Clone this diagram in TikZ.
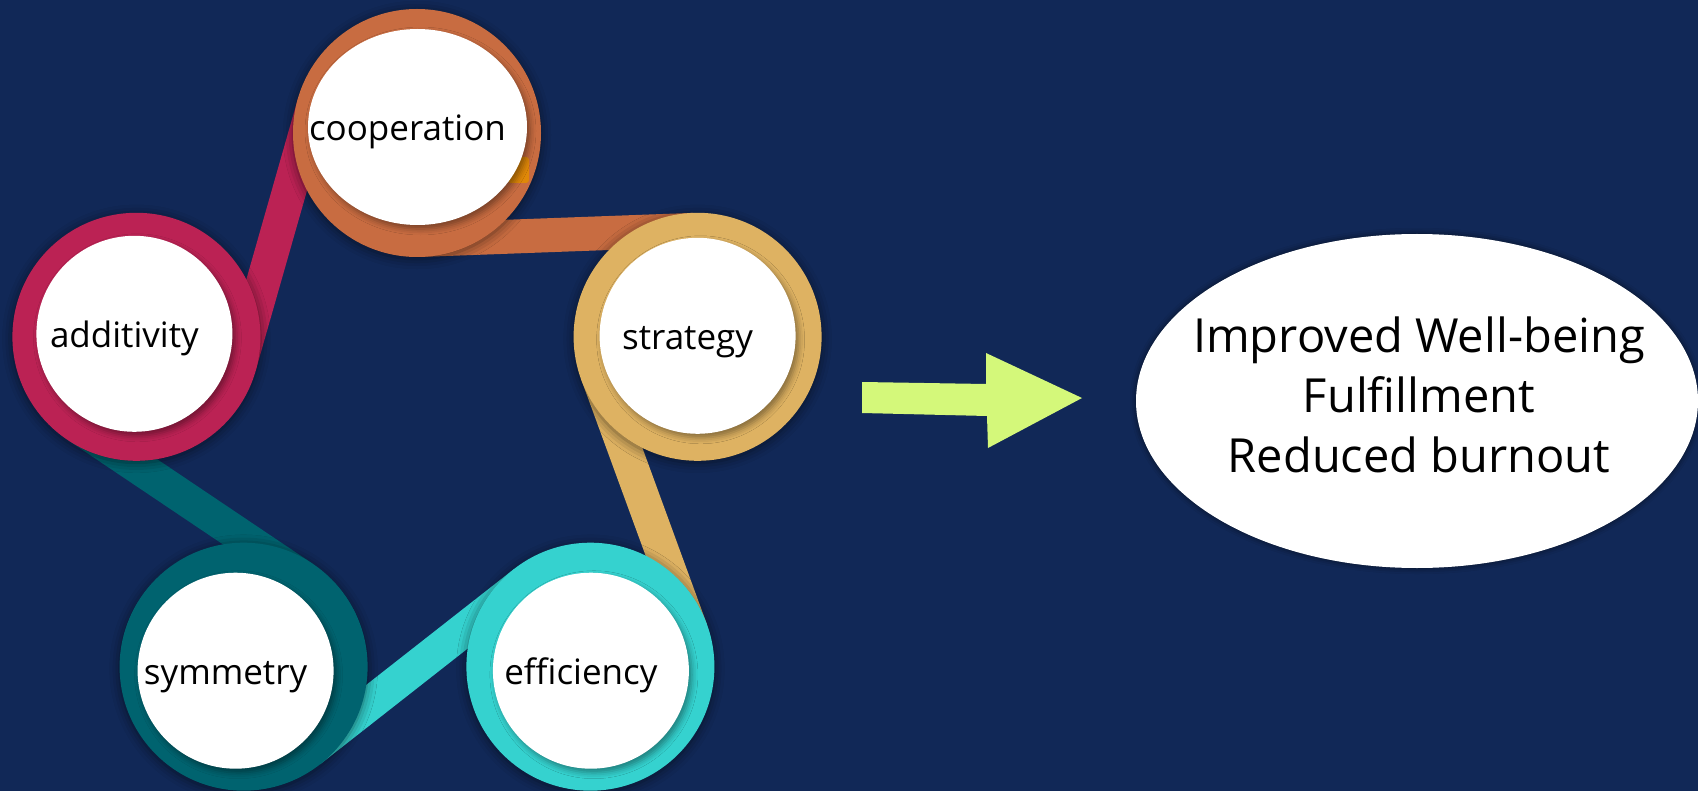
\documentclass[tikz,border=0pt]{standalone}
\usepackage{fontspec}
\setmainfont{Open Sans}
\usepackage{tikz}
\usetikzlibrary{calc,shapes.geometric,shadows.blur}

\definecolor{navy}{RGB}{17,40,87}
\definecolor{ringMagenta}{RGB}{187,34,84}
\definecolor{ringOrange}{RGB}{200,108,65}
\definecolor{ringGold}{RGB}{222,178,98}
\definecolor{ringCyan}{RGB}{53,210,207}
\definecolor{ringTeal}{RGB}{0,99,111}
\definecolor{arrowLime}{RGB}{212,248,122}
\definecolor{tabAmber}{RGB}{224,136,8}

\begin{document}
\begin{tikzpicture}[x=0.5pt, y=-0.5pt,
    ring/.style={circle, fill=#1, minimum size=124pt, inner sep=0pt,
                 blur shadow={shadow xshift=0pt, shadow yshift=-1pt,
                              shadow blur radius=5pt, shadow opacity=55}},
    disc/.style={ellipse, fill=white, minimum width=98pt, minimum height=98pt,
                 inner sep=0pt,
                 blur shadow={shadow xshift=1.5pt, shadow yshift=-2pt,
                              shadow blur radius=3pt, shadow opacity=40}},
    band/.style={draw=#1, line width=17pt},
    lbl/.style={font=\fontsize{17.5}{21}\selectfont, anchor=base,
                inner sep=0pt, xshift=-5pt, yshift=-7pt},
    outcome/.style={ellipse, fill=white, minimum width=281pt, minimum height=167pt,
                    inner sep=0pt,
                    blur shadow={shadow xshift=0pt, shadow yshift=0pt,
                                 shadow blur radius=3pt, shadow opacity=60}}
  ]
  \useasboundingbox (0,0) rectangle (1698,791);
  \fill[navy] (0,0) rectangle (1698,791);

  % ring centres (pentagon around (417,428))
  \coordinate (coopC)  at (417,133);
  \coordinate (stratC) at (697.6,336.8);
  \coordinate (effC)   at (590.4,666.7);
  \coordinate (symC)   at (243.6,666.7);
  \coordinate (addC)   at (136.4,336.8);

  % ribbons: leave one ring on a tangent, tuck under the next one
  \draw[band=ringMagenta] ($(addC)+(-15.9:53.5pt)$)  -- ($(coopC)+(164.1:53.5pt)$);
  \draw[band=ringOrange]  ($(coopC)+(-87.9:53.5pt)$) -- ($(stratC)+(92.1:53.5pt)$);
  \draw[band=ringGold]    ($(stratC)+(-159.9:53.5pt)$) -- ($(effC)+(20.1:53.5pt)$);
  \draw[band=ringCyan]    ($(effC)+(128.1:53.5pt)$)  -- ($(symC)+(-51.9:53.5pt)$);
  \draw[band=ringTeal]    ($(symC)+(56.1:53.5pt)$)   -- ($(addC)+(-123.9:53.5pt)$);

  % rings
  \node[ring=ringOrange]  (coop-ring)  at (coopC)  {};
  \node[ring=ringGold]    (strat-ring) at (stratC) {};
  \node[ring=ringCyan]    (eff-ring)   at (effC)   {};
  \node[ring=ringTeal]    (sym-ring)   at (symC)   {};
  \node[ring=ringMagenta] (add-ring)   at (addC)   {};
  \fill[tabAmber, rounded corners=1.5pt] (508,157) rectangle (529,183);

  % white faces
  \node[disc, minimum width=109.5pt] (coop) at ([shift={(0.5,-6)}]coopC) {};
  \node[disc] (strat) at ([shift={(0,-1)}]stratC) {};
  \node[disc] (eff)   at ([shift={(0.5,4)}]effC)  {};
  \node[disc] (sym)   at ([shift={(-8,4)}]symC)   {};
  \node[disc] (add)   at ([shift={(-2,-3)}]addC)  {};

  \node[lbl] (coop-txt)  at (coop)  {cooperation};
  \node[lbl] (strat-txt) at (strat) {strategy};
  \node[lbl] (eff-txt)   at (eff)   {efficiency};
  \node[lbl] (sym-txt)   at (sym)   {symmetry};
  \node[lbl] (add-txt)   at (add)   {additivity};

  % block arrow towards the outcome
  \fill[arrowLime] (862,382) -- (986,384) -- (986,353) -- (1082,398)
    -- (988,448) -- (987,416) -- (862,413) -- cycle;

  \node[outcome] (result) at (1417,401) {};
  \node[align=center, font=\fontsize{23.5}{30}\selectfont] (result-txt)
    at ([shift={(2,-6)}]result.center)
    {Improved Well-being\\Fulfillment\\Reduced burnout};
\end{tikzpicture}
\end{document}
